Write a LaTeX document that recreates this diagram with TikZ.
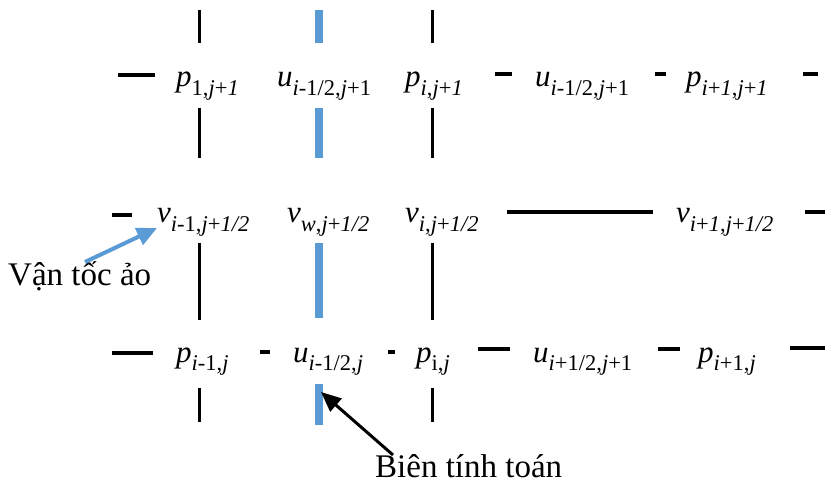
\documentclass[tikz,border=0pt]{standalone}
\usepackage{fontspec}
\setmainfont{Liberation Serif}
\usetikzlibrary{arrows.meta}
\definecolor{bblue}{RGB}{91,155,213}
\newcommand{\sbs}[1]{\raisebox{-8.5pt}{\fontsize{22.5}{22.5}\selectfont #1}}
\newcommand{\mvar}[2]{\textit{#1}\sbs{#2}}
\tikzset{
  lbl/.style={anchor=base west,inner sep=0pt,font=\fontsize{31}{31}\selectfont},
  captxt/.style={anchor=base west,inner sep=0pt,font=\fontsize{33}{33}\selectfont},
  gridk/.style={line width=3pt,black},
  gridb/.style={line width=8pt,bblue},
  dsh/.style={line width=3.5pt,black},
  barrow/.style={line width=4pt,bblue,-{Triangle[length=20pt,width=18pt]}},
  karrow/.style={line width=3pt,black,-{Triangle[length=20pt,width=17pt]}}
}
\begin{document}
\begin{tikzpicture}[x=1pt,y=-1pt]
\useasboundingbox (0,0) rectangle (825,489);
% vertical grid segments
\foreach \a/\b in {10/43,108/158,243/320,388/422}{
  \draw[gridk] (199,\a) -- (199,\b);
  \draw[gridk] (432,\a) -- (432,\b);
}
\foreach \a/\b in {10/43,108/158,243/318,384/425}{
  \draw[gridb] (319,\a) -- (319,\b);
}
% horizontal dashes
\draw[dsh] (118,75) -- (155,75);
\draw[dsh] (495,74) -- (512,74);
\draw[dsh] (655,74) -- (666,74);
\draw[dsh] (803,74) -- (818,74);
\draw[dsh] (112,215) -- (132,215);
\draw[dsh] (507,212) -- (653,212);
\draw[dsh] (805,212) -- (825,212);
\draw[dsh] (112,353) -- (153,353);
\draw[dsh] (260,352) -- (270,352);
\draw[dsh] (388,352) -- (395,352);
\draw[dsh] (478,349) -- (510,349);
\draw[dsh] (658,349) -- (680,349);
\draw[dsh] (790,348) -- (825,348);
% row 1
\node[lbl] (p1) at (176,87) {\mvar{p}{1,\textit{j}+\textit{1}}};
\node[lbl] (u1) at (277,87) {\mvar{u}{\textit{i}-1/2,\textit{j}+1}};
\node[lbl] (p2) at (405,87) {\mvar{p}{\textit{i},\textit{j}+\textit{1}}};
\node[lbl] (u2) at (535,87) {\mvar{u}{\textit{i}-1/2,\textit{j}+1}};
\node[lbl] (p3) at (686,87) {\mvar{p}{\textit{i}+\textit{1},\textit{j}+\textit{1}}};
% row 2
\node[lbl] (v1) at (157,223) {\mvar{v}{\textit{i}-1,\textit{j}+\textit{1/2}}};
\node[lbl] (v2) at (287,223) {\mvar{v}{\textit{w},\textit{j}+\textit{1/2}}};
\node[lbl] (v3) at (405,223) {\mvar{v}{\textit{i},\textit{j}+\textit{1/2}}};
\node[lbl] (v4) at (676,223) {\mvar{v}{\textit{i}+\textit{1},\textit{j}+\textit{1/2}}};
% row 3
\node[lbl] (p4) at (176,362) {\mvar{p}{\textit{i}-1,\textit{j}}};
\node[lbl] (u3) at (293,362) {\mvar{u}{\textit{i}-1/2,\textit{j}}};
\node[lbl] (p5) at (416,362) {\mvar{p}{i,\textit{j}}};
\node[lbl] (u4) at (533,362) {\mvar{u}{\textit{i}+1/2,\textit{j}+1}};
\node[lbl] (p6) at (698,362) {\mvar{p}{\textit{i}+1,\textit{j}}};
% captions
\node[captxt] (ghost) at (8,286) {Vận tốc ảo};
\node[captxt] (bound) at (375,477) {Biên tính toán};
\coordinate (gs) at (85,262);
\coordinate (gt) at (157,228);
\coordinate (bs) at (393,455);
\coordinate (bt) at (321,392);
\draw[barrow] (gs) -- (gt);
\draw[karrow] (bs) -- (bt);
\end{tikzpicture}
\end{document}
